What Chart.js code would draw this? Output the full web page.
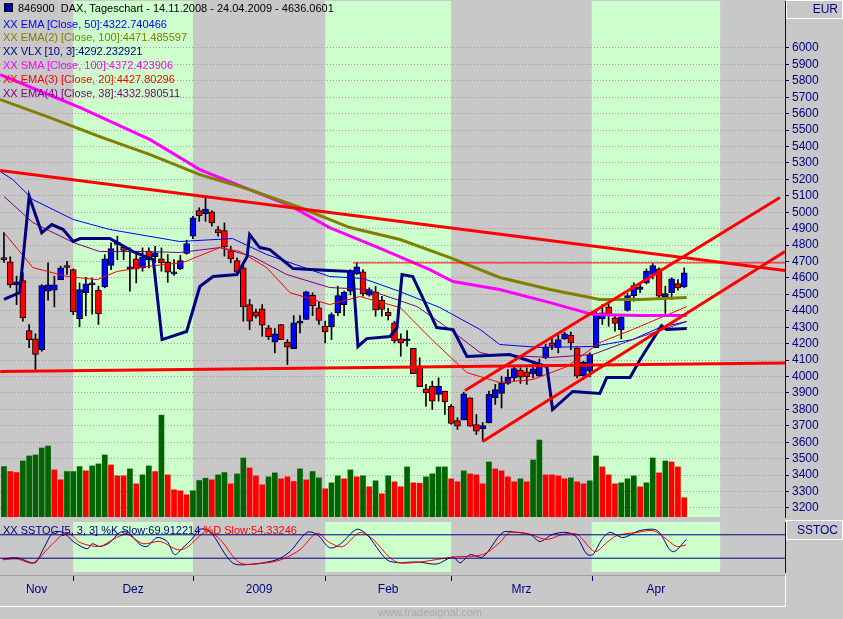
<!DOCTYPE html>
<html><head><meta charset="utf-8">
<script src="https://cdn.jsdelivr.net/npm/chart.js@4"></script>
<style>
body{margin:0;background:#c8c8c8;width:843px;height:619px;overflow:hidden;position:relative;font-family:"Liberation Sans",Arial,sans-serif;}
canvas{position:absolute;left:0;}
.t{position:absolute;font-size:11px;white-space:nowrap;line-height:14px;}
.box{position:absolute;border:1px solid #fff;box-sizing:border-box;color:#000080;font-size:12px;text-align:right;padding-right:4px;}
</style></head><body>
<canvas id="main" width="843" height="520" style="top:0"></canvas>
<canvas id="sto" width="843" height="99" style="top:520px"></canvas>
<div class="box" style="left:786px;top:0;width:57px;height:19px;line-height:17px">EUR</div>
<div class="box" style="left:786px;top:520px;width:57px;height:20px;line-height:18px">SSTOC</div>
<div class="t" style="left:4px;top:1px;color:#000"><span style="display:inline-block;width:7px;height:7px;background:#0000c0;border:1px solid #000;margin-right:5px"></span>846900&nbsp; DAX, Tageschart - 14.11.2008 - 24.04.2009 - 4636.0601</div>
<div class="t" style="left:3px;top:17px;color:#0000ff">XX EMA [Close, 50]:4322.740466</div>
<div class="t" style="left:3px;top:30px;color:#808000">XX EMA(2) [Close, 100]:4471.485597</div>
<div class="t" style="left:3px;top:44px;color:#000080">XX VLX [10, 3]:4292.232921</div>
<div class="t" style="left:3px;top:58px;color:#ff00ff">XX SMA [Close, 100]:4372.423906</div>
<div class="t" style="left:3px;top:72px;color:#ff0000">XX EMA(3) [Close, 20]:4427.80296</div>
<div class="t" style="left:3px;top:86px;color:#800080">XX EMA(4) [Close, 38]:4332.980511</div>
<div class="t" style="left:3px;top:523px;color:#000080">XX SSTOC [5, 3, 3] %K Slow:69.912214 <span style="color:#ff0000">%D Slow:54.33246</span></div>
<div class="t" style="left:378px;top:605px;color:#a8a8a8;font-size:11px">www.tradesignal.com</div>
<script>
// ---------- data ----------
const opens  = [4724,4698,4558,4584,4280,4230,4164,4519,4526,4590,4668,4651,4351,4510,4558,4526,4546,4676,4805,4787,4655,4716,4661,4763,4729,4716,4696,4625,4655,4749,4854,5010,4992,5002,4895,4889,4767,4706,4661,4438,4394,4412,4296,4209,4317,4209,4169,4325,4347,4495,4418,4306,4303,4388,4438,4519,4625,4637,4495,4516,4465,4391,4327,4230,4217,4171,4063,3925,3941,3891,3911,3819,3732,3736,3870,3708,3682,3718,3870,3897,3958,3992,4039,4029,4016,4002,4114,4205,4175,4230,4252,4175,4006,4033,4175,4351,4424,4357,4286,4402,4493,4530,4570,4621,4655,4485,4510,4566,4546];
const highs  = [4876,4729,4611,4633,4317,4260,4560,4692,4611,4672,4702,4655,4570,4604,4600,4550,4742,4814,4854,4800,4783,4763,4783,4783,4793,4783,4742,4712,4737,4830,4976,5027,5097,5010,4915,4935,4793,4722,4682,4469,4410,4438,4312,4292,4317,4225,4371,4371,4520,4510,4452,4337,4388,4550,4520,4651,4692,4651,4540,4550,4489,4416,4337,4260,4280,4171,4114,3952,3972,3992,3911,3830,3749,3905,3870,3769,3720,3911,3952,4002,4043,4069,4053,4053,4090,4106,4197,4237,4250,4270,4270,4175,4093,4144,4398,4438,4449,4377,4377,4506,4570,4566,4655,4688,4661,4550,4601,4590,4661];
const lows   = [4694,4542,4438,4337,4175,4043,4154,4465,4424,4590,4621,4377,4303,4371,4380,4317,4540,4651,4712,4712,4519,4570,4641,4661,4692,4641,4574,4615,4651,4745,4840,4945,4945,4915,4854,4733,4692,4621,4337,4286,4357,4245,4225,4144,4225,4073,4169,4265,4347,4371,4317,4205,4225,4371,4371,4497,4621,4489,4489,4367,4367,4344,4205,4124,4185,4018,3938,3819,3799,3850,3769,3710,3678,3736,3698,3647,3606,3718,3830,3809,3952,3972,3958,3952,3992,4002,4108,4164,4144,4225,4164,3992,4002,3998,4175,4317,4306,4276,4230,4398,4459,4510,4564,4594,4479,4384,4469,4526,4540];
const closes = [4712,4558,4576,4357,4225,4134,4554,4558,4558,4661,4664,4394,4530,4564,4562,4382,4716,4779,4810,4767,4659,4655,4729,4712,4753,4692,4635,4629,4706,4810,4966,4980,5020,4935,4875,4789,4716,4635,4424,4337,4367,4312,4242,4260,4225,4179,4327,4329,4516,4432,4341,4272,4377,4493,4513,4641,4668,4503,4530,4406,4408,4371,4219,4205,4221,4018,3938,3900,3850,3941,3846,3714,3698,3895,3698,3667,3702,3891,3921,3962,3996,4049,3996,3998,4047,4063,4181,4185,4225,4260,4205,4002,4087,4134,4384,4388,4377,4323,4361,4493,4554,4546,4641,4676,4489,4505,4595,4540,4631];
const volumes = [152,137,134,169,184,187,208,214,142,112,137,137,152,139,154,160,187,157,124,124,145,100,127,154,137,307,127,82,79,67,79,110,117,112,127,134,100,130,178,148,124,97,121,133,115,121,107,145,112,137,118,85,103,124,115,142,121,124,91,109,70,124,106,91,151,103,
 102,121,130,151,151,115,106,139,130,127,100,166,145,139,121,106,115,106,172,232,127,127,124,115,118,106,100,109,184,151,127,100,103,115,124,91,103,178,133,169,166,151,58];
const volumeDir = ("GRRGGGGGRRGGGRGGGRRRGRGGRGRRRRGGGRGGRGGRRRGGRRRGRGGRGGRGRGRGRGRRGR"+"RGGGGRRGRRRGRRRRGRGGRRRRGRRGGRRRGGGRGGRGRRR").split('');
// indicator lines [dayIndex, price]
const sma100 = [[-0.6,5838],[12.1,5637],[23.2,5442],[31.1,5260],[39,5138],[45.4,5041],[51.7,4907],[60.2,4773],[67.6,4651],[71.3,4578],[78.7,4530],[86.7,4450],[93.5,4377],[101,4371],[108.4,4371]];
const ema100 = [[-0.6,5686],[7.3,5576],[15.2,5461],[23.2,5351],[31.1,5229],[39,5138],[47,5029],[54.9,4907],[62.9,4834],[70.8,4724],[78.7,4603],[86.7,4530],[94.6,4469],[101,4469],[108.4,4481]];
const ema50 = [[-0.6,5248],[1.4,5199],[4.6,5077],[11,4956],[16.8,4895],[27.9,4822],[36.3,4840],[41.7,4743],[51.7,4609],[57,4597],[62.9,4517],[69.2,4420],[75.6,4286],[78.7,4195],[85.1,4177],[93.5,4183],[99.8,4225],[104.1,4298],[108.4,4335]];
const ema38 = [[0,5096],[4.6,4937],[11,4816],[15.2,4761],[22.7,4761],[27.9,4755],[34.3,4785],[39.5,4730],[44.9,4621],[51.7,4542],[57.6,4530],[65.6,4426],[70.8,4286],[75.6,4146],[77.1,4134],[86.7,4116],[93.5,4134],[99.8,4225],[108.4,4335]];
const ema20 = [[0,4876],[4.6,4663],[10,4609],[14.8,4590],[17.9,4639],[22.7,4670],[28.4,4694],[34.3,4785],[37.5,4761],[41.7,4663],[45.4,4511],[51.7,4438],[56.5,4487],[62.9,4420],[68.1,4219],[73.5,4024],[78.7,3964],[84,3982],[89.4,4061],[94.6,4207],[99.8,4286],[108.4,4426]];
const vlx = [[0,4469],[2.5,4511],[4,5096],[6,4876],[7.6,4925],[9.4,4895],[11,4822],[12.1,4840],[16.8,4840],[20.5,4761],[23.7,4712],[25.1,4225],[29,4274],[31.1,4548],[33.2,4609],[37,4621],[38.6,4730],[39,4864],[40.6,4785],[42.2,4773],[45.9,4657],[51.7,4645],[55.4,4639],[56.2,4183],[57.6,4231],[61.3,4244],[62.4,4298],[63.2,4621],[64.9,4609],[68.7,4298],[71.3,4286],[73.5,4122],[80.3,4134],[86.2,4061],[87.1,3799],[90.3,3909],[94.6,3897],[95.7,3994],[99.4,3994],[101,4104],[104.4,4310],[105.2,4286],[108.4,4292]];
const trendDown = [[-0.6,5254],[124,4645]];
const trendSupport = [[-0.6,4031],[124,4082]];
const channelLow = [[76,3605],[124,4761]];
const channelHigh = [[73.2,3915],[123.2,5090]];
const level4700 = [[55.4,4692],[124,4692]];
const stochK = [[-0.2,18],[2.1,21],[4.9,8],[6.2,42],[7.8,86],[9.4,86],[11,63],[13.2,44],[14,57],[15.2,50],[16.8,60],[18.4,86],[19.7,86],[21.6,55],[22.7,50],[24.3,73],[25.9,63],[27.1,29],[28.4,47],[29.8,68],[31.1,94],[32.7,89],[36.3,8],[39.5,5],[43.3,16],[45.4,37],[48.1,86],[49.7,81],[51.7,47],[53.3,55],[56,94],[57.6,81],[60.8,16],[62.9,8],[64.4,10],[66,10],[68.7,5],[71.3,23],[72.4,8],[74,29],[76,23],[79.2,86],[81.4,86],[83.5,81],[85.1,63],[87.1,81],[89.4,86],[91,73],[92.5,31],[93.5,29],[94.9,68],[96.2,86],[98.3,73],[101,91],[103.7,91],[105.7,42],[106.5,37],[108.3,68]];
const stochD = [[-0.2,16],[2.1,18],[4.6,8],[7.3,50],[10,86],[12.1,60],[15.2,50],[17.3,68],[19.5,81],[22.1,57],[24.8,63],[27.5,42],[29,47],[32.2,89],[34.3,68],[37.5,8],[41.7,8],[44.3,18],[47,42],[49.7,84],[51.7,60],[53.8,50],[56.5,86],[58.6,68],[61.3,21],[62.9,8],[66,10],[71.3,23],[76,29],[78.7,60],[80.3,86],[83.5,81],[86.2,68],[88.7,81],[91,81],[93.8,37],[95.7,60],[97.3,78],[100.5,86],[103,91],[104.6,76],[106.8,50],[108.3,54]];
const priceTicks = [3200,6000];
const monthStarts = [-0.63,11,30,51,71,93.3,113.7];
const monthLabels = ['Nov','Dez','2009','Feb','Mrz','Apr'];
const greenMonths = [1,3,5];
const X_MIN=-0.63, X_MAX=124;

// ---------- helpers ----------
const pts = a => a.map(p=>({x:p[0],y:p[1]}));
const days = opens.map((_,i)=>i);
const up = days.map(i=>closes[i]>=opens[i]);
const bands = {id:'bands', beforeDraw(c){
  const {ctx,chartArea:a,scales:{x}}=c; ctx.save();
  ctx.fillStyle='#c8c8c8'; ctx.fillRect(a.left,a.top,a.width,a.height);
  ctx.fillStyle='#ccffcc';
  greenMonths.forEach(m=>{const s=x.getPixelForValue(monthStarts[m]),e=x.getPixelForValue(monthStarts[m+1]);ctx.fillRect(s,a.top,e-s,a.height);});
  ctx.restore();}};
const line=(data,color,w,order,extra)=>Object.assign({type:'line',data:pts(data),borderColor:color,borderWidth:w,pointRadius:0,tension:0,order,yAxisID:'y',fill:false},extra||{});
const fitW = s=>{s.width=58;s.paddingTop=0;s.paddingBottom=0;};

new Chart(document.getElementById('main'),{
  data:{datasets:[
    {type:'bar',data:days.map(i=>({x:i,y:volumes[i]})),yAxisID:'yv',backgroundColor:volumeDir.map(d=>d==='G'?'#006400':'#ff0000'),barThickness:5,grouped:false,order:20},
    {type:'bar',data:days.map(i=>({x:i,y:[lows[i],highs[i]]})),yAxisID:'y',backgroundColor:'#000',barThickness:1,grouped:false,order:12},
    {type:'bar',data:days.map(i=>({x:i,y:[opens[i],closes[i]]})),yAxisID:'y',backgroundColor:up.map(u=>u?'#0000ff':'#ff0000'),borderColor:'#000',borderWidth:1,borderSkipped:false,barThickness:6,minBarLength:2,grouped:false,order:11},
    line(ema20,'#ff0000',1,6),
    line(ema38,'#800080',1,6),
    line(ema50,'#0000ff',1,6),
    line(ema100,'#808000',3,5),
    line(sma100,'#ff00ff',3,5),
    line(vlx,'#000080',3,4),
    line(level4700,'#ff0000',1,3),
    line(trendDown,'#ff0000',3,2),
    line(trendSupport,'#ff0000',3,2),
    line(channelLow,'#ff0000',3,2),
    line(channelHigh,'#ff0000',3,2)
  ]},
  options:{responsive:false,animation:false,devicePixelRatio:1,
    layout:{padding:{top:1,bottom:3,left:0,right:0}},
    plugins:{legend:{display:false},tooltip:{enabled:false}},
    scales:{
      x:{type:'linear',min:X_MIN,max:X_MAX,display:false,offset:false},
      yv:{type:'linear',min:0,max:1556,display:false},
      y:{type:'linear',position:'right',min:3145,max:6286,afterFit:fitW,
        afterBuildTicks:s=>{const t=[];for(let v=priceTicks[0];v<=priceTicks[1];v+=100)t.push({value:v});s.ticks=t;},
        ticks:{color:'#000080',font:{family:'Liberation Sans',size:12},padding:3,callback:v=>String(v)},
        grid:{color:'rgba(170,140,160,0.9)',borderDash:[1,4],tickColor:'#000080',tickLength:4,tickBorderDash:[]},
        border:{color:'#000080',dash:[1,2]}}
    }},
  plugins:[bands]
});

const stoAxis = {id:'stoAxis', afterDraw(c){
  const {ctx,chartArea:a,scales:{x}}=c; ctx.save();
  ctx.strokeStyle='#a0a0a0';ctx.lineWidth=1;
  ctx.beginPath();ctx.moveTo(0,55.5);ctx.lineTo(a.right,55.5);ctx.stroke();
  ctx.strokeStyle='#ffffff';ctx.beginPath();ctx.moveTo(0,86.5);ctx.lineTo(a.right+0.5,86.5);ctx.lineTo(a.right+0.5,55);ctx.stroke();
  ctx.strokeStyle='#000080';
  for(let m=1;m<monthStarts.length-1;m++){const px=Math.round(x.getPixelForValue(monthStarts[m]))+0.5;ctx.beginPath();ctx.moveTo(px,56);ctx.lineTo(px,61);ctx.stroke();}
  ctx.fillStyle='#000080';ctx.font='12px "Liberation Sans"';ctx.textAlign='center';ctx.textBaseline='middle';
  monthLabels.forEach((l,m)=>{ctx.fillText(l,x.getPixelForValue((monthStarts[m]+monthStarts[m+1])/2),70);});
  ctx.restore();}};

new Chart(document.getElementById('sto'),{
  data:{datasets:[
    {type:'line',data:pts([[X_MIN,80],[X_MAX,80]]),borderColor:'#000080',borderWidth:1,pointRadius:0},
    {type:'line',data:pts([[X_MIN,20],[X_MAX,20]]),borderColor:'#000080',borderWidth:1,pointRadius:0},
    {type:'line',data:pts(stochD),borderColor:'#ff0000',borderWidth:1,pointRadius:0,tension:0.3},
    {type:'line',data:pts(stochK),borderColor:'#000080',borderWidth:1,pointRadius:0,tension:0.3}
  ]},
  options:{responsive:false,animation:false,devicePixelRatio:1,
    layout:{padding:{top:2,bottom:47,left:0,right:0}},
    plugins:{legend:{display:false},tooltip:{enabled:false}},
    scales:{
      x:{type:'linear',min:X_MIN,max:X_MAX,display:false},
      y:{type:'linear',position:'right',min:-15.4,max:112.8,afterFit:fitW,
        ticks:{display:false},grid:{display:false},border:{color:'#000080',dash:[1,2]}}
    }},
  plugins:[bands,stoAxis]
});
</script></body></html>
